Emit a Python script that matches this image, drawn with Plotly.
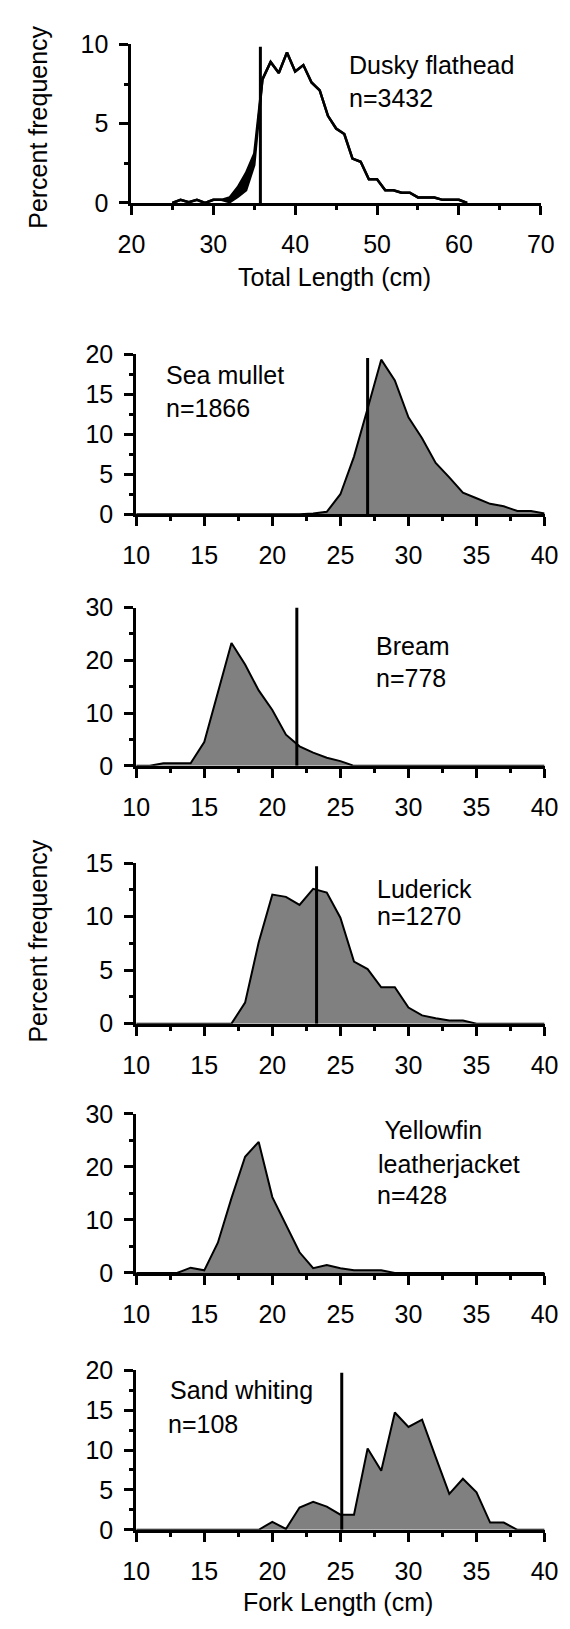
import plotly.graph_objects as go

W, H = 570, 1629
FONT = "Liberation Sans, Arial, sans-serif"
FS = 25

# ---------------- data ----------------
# Dusky flathead (total length, cm)
flat_x = list(range(25, 62))
flat_y = [0, 0.2, 0.05, 0.2, 0.0, 0.2, 0.2, 0.35, 1.0, 1.9, 3.1, 7.8, 8.9, 8.2, 9.5, 8.3,
          8.7, 7.6, 7.1, 5.5, 4.7, 4.35, 2.8, 2.6, 1.5, 1.5, 0.8, 0.8, 0.65, 0.65, 0.35,
          0.35, 0.35, 0.2, 0.2, 0.2, 0]
flat_y_low = [0, 0.2, 0.05, 0.2, 0.0, 0.2, 0.2, 0.05, 0.4, 0.8, 2.4, 7.8, 8.9, 8.2, 9.5, 8.3,
              8.7, 7.6, 7.1, 5.5, 4.7, 4.35, 2.8, 2.6, 1.5, 1.5, 0.8, 0.8, 0.65, 0.65, 0.35,
              0.35, 0.35, 0.2, 0.2, 0.2, 0]
flat_mls = 35.75

fork_x = list(range(10, 41))
# Sea mullet
mullet_y = [0]*13 + [0.1, 0.3, 2.5, 7.2, 13.2, 19.3, 16.7, 12.1, 9.5, 6.4, 4.6, 2.7, 2.0,
                     1.3, 1.0, 0.4, 0.4, 0.1]
mullet_mls = 27.0
# Bream
bream_y = [0, 0, 0.5, 0.5, 0.5, 4.5, 14.0, 23.3, 19.2, 14.3, 10.6, 5.9, 3.7, 2.5, 1.55,
           0.9, 0] + [0]*14
bream_mls = 21.8
# Luderick
luderick_y = [0]*8 + [1.96, 7.6, 12.06, 11.85, 11.1, 12.6, 12.25, 9.9, 5.8, 5.1, 3.4, 3.4,
                      1.5, 0.77, 0.5, 0.3, 0.3, 0] + [0]*5
luderick_mls = 23.25
# Yellowfin leatherjacket
yfl_y = [0]*4 + [1.0, 0.5, 5.7, 14.1, 21.9, 24.7, 14.3, 9.1, 3.9, 0.9, 1.5, 0.9, 0.5, 0.5,
                 0.5, 0] + [0]*11
# Sand whiting
whiting_y = [0]*10 + [1.0, 0.1, 2.8, 3.5, 2.9, 1.9, 1.9, 10.2, 7.4, 14.7, 12.9, 13.8, 9.1,
                      4.5, 6.4, 4.7, 0.9, 0.9, 0] + [0]*2
whiting_mls = 25.1

# panel labels
labels = [["Dusky flathead", "n=3432"], ["Sea mullet", "n=1866"], ["Bream", "n=778"],
          ["Luderick", "n=1270"], [" Yellowfin", "leatherjacket", "n=428"],
          ["Sand whiting", "n=108"]]

# ---------------- layout helpers ----------------
def fx(px):
    return px / W

def fy(py):
    return 1 - py / H

# pixel boxes (left, right, top, bottom)
boxes = [(123.5, 554, 31, 192.3), (128.5, 558, 346, 509), (128.5, 558, 604, 765),
         (128.5, 558, 864, 1027.3), (128.5, 558, 1119, 1281), (128.5, 558, 1380, 1542.3)]
yranges = [10, 20, 30, 15, 30, 20]
ydticks = [5, 5, 10, 5, 10, 5]

fig = go.Figure()

def add_area(i, x, y, fill=True, lw=2):
    s = "" if i == 0 else str(i + 1)
    fig.add_trace(go.Scatter(x=x, y=y, mode="lines", xaxis="x" + s, yaxis="y" + s,
                             line=dict(color="black", width=lw),
                             fill="tozeroy" if fill else None,
                             fillcolor="#808080", showlegend=False, hoverinfo="skip"))

def add_vline(i, xv, top):
    s = "" if i == 0 else str(i + 1)
    fig.add_trace(go.Scatter(x=[xv, xv], y=[0, top], mode="lines", xaxis="x" + s,
                             yaxis="y" + s, line=dict(color="black", width=3),
                             showlegend=False, hoverinfo="skip"))

# panel 1: two nearly coincident lines, black between them
add_area(0, flat_x, flat_y, fill=False, lw=2.5)
fig.add_trace(go.Scatter(x=flat_x, y=flat_y_low, mode="lines", line=dict(color="black", width=2.5),
                         fill="tonexty", fillcolor="black", showlegend=False, hoverinfo="skip"))
add_vline(0, flat_mls, 9.85)

add_area(1, fork_x, mullet_y)
add_vline(1, mullet_mls, 19.5)
add_area(2, fork_x, bream_y)
add_vline(2, bream_mls, 30)
add_area(3, fork_x, luderick_y)
add_vline(3, luderick_mls, 14.7)
add_area(4, fork_x, yfl_y)
add_area(5, fork_x, whiting_y)
add_vline(5, whiting_mls, 19.7)

common = dict(showgrid=False, zeroline=False, showline=True, linecolor="black", linewidth=3,
              ticks="outside", ticklen=9, tickwidth=3, tickcolor="black",
              tickfont=dict(family=FONT, size=FS, color="black"), fixedrange=True)

layout = dict(width=W, height=H, margin=dict(l=0, r=0, t=0, b=0),
              paper_bgcolor="white", plot_bgcolor="white",
              font=dict(family=FONT, size=FS, color="black"))

for i, (l, r, t, b) in enumerate(boxes):
    s = "" if i == 0 else str(i + 1)
    if i == 0:
        xr, xd = [20, 70], 10
    else:
        xr, xd = [10, 40], 5
    layout["xaxis" + s] = dict(common, domain=[fx(l), fx(r)], range=xr, dtick=xd, tick0=xr[0],
                               anchor="y" + s, ticklabelstandoff=8,
                               minor=dict(dtick=xd / 2, tick0=xr[0], ticks="outside", ticklen=4,
                                          tickwidth=3, tickcolor="black"))
    layout["yaxis" + s] = dict(common, domain=[fy(b), fy(t)], range=[0, yranges[i]],
                               dtick=ydticks[i], tick0=0, anchor="x" + s, ticklabelstandoff=6,
                               minor=dict(dtick=ydticks[i] / 2, tick0=0, ticks="outside",
                                          ticklen=4, tickwidth=3, tickcolor="black"))

ann = []
def text(px, py, s, anchor="left", angle=0):
    ann.append(dict(x=fx(px), y=fy(py), xref="paper", yref="paper", text=s, showarrow=False,
                    xanchor=anchor, yanchor="middle", textangle=angle,
                    font=dict(family=FONT, size=FS, color="black")))

# label positions (left x, centre y of each line)
label_pos = [[(350, 52), (350, 85)], [(158, 367), (158, 401)], [(379, 643), (379, 676)],
             [(380, 890), (380, 918)], [(381, 1136), (381, 1170), (380, 1202)],
             [(162, 1400), (160, 1435)]]
for lines, poss in zip(labels, label_pos):
    for s, (px, py) in zip(lines, poss):
        text(px, py, s)

text(337, 268, "Total Length (cm)", anchor="center")
text(341, 1616, "Fork Length (cm)", anchor="center")
text(25, 115, "Percent frequency", anchor="center", angle=-90)
text(25, 943, "Percent frequency", anchor="center", angle=-90)

layout["annotations"] = ann
fig.update_layout(**layout)
fig.write_html("out.html", config={"displayModeBar": False},
               post_script="document.body.style.margin='0';document.body.style.overflow='hidden';")
